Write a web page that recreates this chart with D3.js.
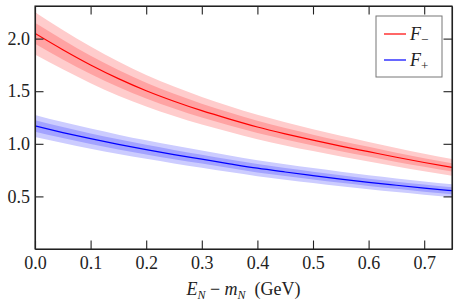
<!DOCTYPE html>
<html>
<head>
<meta charset="utf-8">
<script src="https://cdn.jsdelivr.net/npm/d3@7"></script>
<style>
  body { margin: 0; background: #fff; }
</style>
</head>
<body>
<svg class="chart"></svg>
<script>
// energies E_N - m_N (GeV)
var xs = [0, 0.05, 0.1, 0.15, 0.2, 0.25, 0.3, 0.35, 0.4, 0.45, 0.5, 0.55, 0.6, 0.65, 0.7, 0.75];

var redMid = [2.05, 1.895, 1.75, 1.62, 1.505, 1.405, 1.315, 1.235, 1.16, 1.095, 1.035, 0.978, 0.925, 0.872, 0.822, 0.776];
var redIn = [0.10, 0.094, 0.087, 0.081, 0.075, 0.07, 0.066, 0.062, 0.058, 0.055, 0.052, 0.049, 0.046, 0.044, 0.041, 0.04];
var redOut = [0.20, 0.187, 0.174, 0.162, 0.15, 0.14, 0.131, 0.123, 0.116, 0.11, 0.104, 0.098, 0.093, 0.088, 0.083, 0.08];

var blueMid = [1.17, 1.107, 1.049, 0.995, 0.945, 0.898, 0.854, 0.81, 0.768, 0.732, 0.698, 0.665, 0.634, 0.606, 0.579, 0.554];
var blueIn = [0.055, 0.052, 0.05, 0.048, 0.046, 0.044, 0.042, 0.041, 0.04, 0.038, 0.037, 0.036, 0.035, 0.034, 0.034, 0.033];
var blueOut = [0.105, 0.10, 0.096, 0.092, 0.088, 0.085, 0.082, 0.079, 0.076, 0.074, 0.071, 0.069, 0.067, 0.065, 0.063, 0.062];

var xTicks = [0, 0.1, 0.2, 0.3, 0.4, 0.5, 0.6, 0.7];
var yTicks = [0.5, 1.0, 1.5, 2.0];

var serif = '"Liberation Serif", "Times New Roman", Times, serif';

var margin = { top: 6, right: 7, bottom: 59, left: 35 };
var width = 459 - margin.left - margin.right;
var height = 308 - margin.top - margin.bottom;

var x = d3.scaleLinear().domain([0, 0.75]).range([0, width]);
var y = d3.scaleLinear().domain([0, 2.31]).range([height, 0]);

var svg = d3.select('.chart')
  .attr('width', 459)
  .attr('height', 308);

var chart = svg.append('g')
  .attr('transform', 'translate(' + margin.left + ',' + margin.top + ')');

chart.append('clipPath').attr('id', 'clip')
  .append('rect').attr('width', width).attr('height', height);

var plot = chart.append('g').attr('clip-path', 'url(#clip)');

function band(mid, half) {
  return d3.area()
    .x((d, i) => x(xs[i]))
    .y0((d, i) => y(mid[i] - half[i]))
    .y1((d, i) => y(mid[i] + half[i]))
    .curve(d3.curveMonotoneX)(xs);
}
function line(mid) {
  return d3.line()
    .x((d, i) => x(xs[i]))
    .y((d, i) => y(mid[i]))
    .curve(d3.curveMonotoneX)(xs);
}

var series = [
  { mid: redMid, inn: redIn, out: redOut, light: '#ffcccc', dark: '#ffa3a3', col: '#ff0000' },
  { mid: blueMid, inn: blueIn, out: blueOut, light: '#ccccff', dark: '#a3a3ff', col: '#0000ff' }
];

series.forEach(s => {
  plot.append('path').attr('d', band(s.mid, s.out)).attr('fill', s.light);
  plot.append('path').attr('d', band(s.mid, s.inn)).attr('fill', s.dark);
  plot.append('path').attr('d', line(s.mid)).attr('fill', 'none')
    .attr('stroke', s.col).attr('stroke-width', 1.2);
});

//axes, ticks pointing inward on all four sides
var fmt = d3.format('.1f');
chart.append('g').attr('class', 'x axis')
  .attr('transform', 'translate(0,' + height + ')')
  .call(d3.axisBottom(x).tickValues(xTicks).tickFormat(fmt).tickSizeInner(-8.5).tickSizeOuter(0).tickPadding(7));
chart.append('g').attr('class', 'x axis top')
  .call(d3.axisTop(x).tickValues(xTicks).tickFormat('').tickSizeInner(-8.5).tickSizeOuter(0));
chart.append('g').attr('class', 'y axis')
  .call(d3.axisLeft(y).tickValues(yTicks).tickFormat(fmt).tickSizeInner(-8.5).tickSizeOuter(0).tickPadding(5));
chart.append('g').attr('class', 'y axis right')
  .attr('transform', 'translate(' + width + ',0)')
  .call(d3.axisRight(y).tickValues(yTicks).tickFormat('').tickSizeInner(-8.5).tickSizeOuter(0));

chart.selectAll('.axis')
  .attr('font-family', serif).attr('font-size', 18);
chart.selectAll('.axis text').attr('fill', '#222');
chart.selectAll('.axis path, .axis line').attr('stroke', '#222').attr('stroke-width', 1.1);
chart.selectAll('.x.axis text').attr('dy', '0.71em');

// frame
chart.append('rect').attr('width', width).attr('height', height)
  .attr('fill', 'none').attr('stroke', '#222').attr('stroke-width', 1.1);

// x label
var xl = svg.append('text')
  .attr('font-family', serif).attr('font-size', 18).attr('fill', '#222')
  .attr('x', margin.left + width / 2).attr('y', 295).attr('text-anchor', 'middle');
xl.append('tspan').attr('font-style', 'italic').text('E');
xl.append('tspan').attr('font-style', 'italic').attr('font-size', '12px').attr('dy', 4).text('N');
xl.append('tspan').attr('dy', -4).text(' \u2212 ');
xl.append('tspan').attr('font-style', 'italic').text('m');
xl.append('tspan').attr('font-style', 'italic').attr('font-size', '12px').attr('dy', 4).text('N');
xl.append('tspan').attr('dy', -4).text('\u2002(GeV)');

// legend
var leg = svg.append('g').attr('transform', 'translate(376,16)');
leg.append('rect').attr('width', 66).attr('height', 61)
  .attr('fill', '#fff').attr('stroke', '#777').attr('stroke-width', 1);
var legItems = [
  { col: '#ff0000', sub: '\u2212' },
  { col: '#0000ff', sub: '+' }
];
legItems.forEach((d, i) => {
  var yy = 18 + i * 26;
  leg.append('line').attr('x1', 8).attr('x2', 30).attr('y1', yy).attr('y2', yy)
    .attr('stroke', d.col).attr('stroke-width', 1.2);
  var t = leg.append('text')
    .attr('font-family', serif).attr('font-size', 18).attr('fill', '#222')
    .attr('x', 34).attr('y', yy + 6);
  t.append('tspan').attr('font-style', 'italic').text('F');
  t.append('tspan').attr('font-size', '13px').attr('dy', 4).text(d.sub);
});
</script>
</body>
</html>
